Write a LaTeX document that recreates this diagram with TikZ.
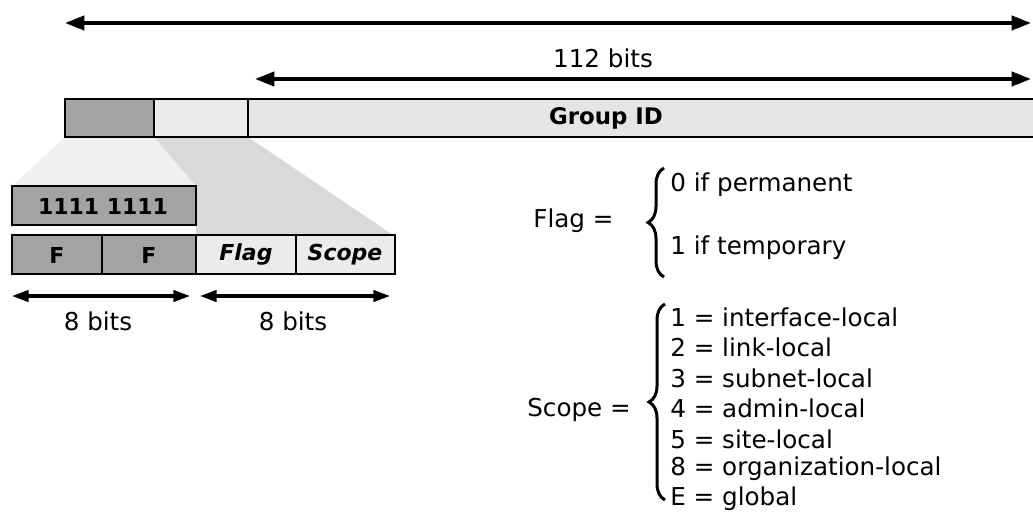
\documentclass[tikz,border=0pt]{standalone}
\usepackage{fontspec}
\setmainfont{DejaVu Sans}
\usetikzlibrary{arrows.meta,decorations.pathreplacing}

\definecolor{cellDark}{gray}{0.64}
\definecolor{cellLight}{gray}{0.92}
\definecolor{barFill}{gray}{0.90}
\definecolor{fanLight}{gray}{0.94}
\definecolor{fanDark}{gray}{0.85}

\tikzset{
  spanArrow/.style={line width=2.2pt,
    {Triangle[length=11pt,width=8pt]}-{Triangle[length=11pt,width=8pt]}},
  bitsArrow/.style={line width=1.8pt,
    {Triangle[length=9.5pt,width=6.5pt]}-{Triangle[length=9.5pt,width=6.5pt]}},
  cellBox/.style={draw=black, line width=0.9pt},
  txt/.style={font=\fontsize{14}{17}\selectfont, inner sep=0pt},
  cellTxt/.style={font=\fontsize{12.5}{15}\selectfont\bfseries, inner sep=0pt},
  curly/.style={decorate, decoration={brace, amplitude=3.2mm}, line width=1.7pt},
}

\begin{document}
\begin{tikzpicture}[x=0.2mm, y=-0.2mm]
  \useasboundingbox (0,0) rectangle (1033,517);

  % widths over the address
  \coordinate (topL) at (65,23);
  \coordinate (topR) at (1031,23);
  \coordinate (grpL) at (255,79);
  \coordinate (grpR) at (1031,79);
  \draw[spanArrow] (topL) -- (topR);
  \draw[spanArrow] (grpL) -- (grpR);
  \node[txt] (grpbits) at (603,58) {112 bits};

  % fans from the prefix down to the expanded fields
  \fill[fanLight] (65,137) -- (154,137) -- (196,186) -- (12,186) -- cycle;
  \fill[fanDark] (154,137) -- (248,137) -- (393,235) -- (196,235) -- (196,186) -- cycle;

  % address bar
  \draw[cellBox, fill=barFill] (65,99) rectangle (1040,137);
  \draw[cellBox, fill=cellDark] (65,99) rectangle (154,137);
  \draw[cellBox, fill=cellLight] (154,99) rectangle (248,137);
  \node[cellTxt, font=\fontsize{13}{15}\selectfont\bfseries] (grpid) at (606,118) {Group ID};

  % prefix byte and its fields
  \draw[cellBox, fill=cellDark] (12,186) rectangle (196,225);
  \node[cellTxt] (ones) at (103,206) {1111 1111};
  \draw[cellBox, fill=cellDark] (12,235) rectangle (102,274);
  \draw[cellBox, fill=cellDark] (102,235) rectangle (196,274);
  \draw[cellBox, fill=cellLight] (196,235) rectangle (296,274);
  \draw[cellBox, fill=cellLight] (296,235) rectangle (395,274);
  \node[cellTxt] (f1) at (57,255) {F};
  \node[cellTxt] (f2) at (149,255) {F};
  \node[cellTxt] (flag) at (246,255) {\itshape Flag};
  \node[cellTxt] (scope) at (345,255) {\itshape Scope};

  \coordinate (prefL) at (12,296);
  \coordinate (prefR) at (190,296);
  \coordinate (fsL) at (200,296);
  \coordinate (fsR) at (390,296);
  \draw[bitsArrow] (prefL) -- (prefR);
  \draw[bitsArrow] (fsL) -- (fsR);
  \node[txt] (prefbits) at (98,321) {8 bits};
  \node[txt] (fsbits) at (293,321) {8 bits};

  % flag values
  \node[txt, anchor=west] (flageq) at (533,221) {Flag =};
  \draw[curly] (664,277) -- (664,168);
  \node[txt, anchor=west] (perm) at (670,185) {0 if permanent};
  \node[txt, anchor=west] (temp) at (670,248) {1 if temporary};

  % scope values
  \node[txt, anchor=west] (scopeeq) at (527,410) {Scope =};
  \draw[curly] (665,500) -- (665,304);
  \node[txt, anchor=west] (sc1) at (670,317) {1 = interface-local};
  \node[txt, anchor=west] (sc2) at (670,347) {2 = link-local};
  \node[txt, anchor=west] (sc3) at (670,378) {3 = subnet-local};
  \node[txt, anchor=west] (sc4) at (670,408) {4 = admin-local};
  \node[txt, anchor=west] (sc5) at (670,439) {5 = site-local};
  \node[txt, anchor=west] (sc8) at (670,469) {8 = organization-local};
  \node[txt, anchor=west] (scE) at (670,499) {E = global};
\end{tikzpicture}
\end{document}
